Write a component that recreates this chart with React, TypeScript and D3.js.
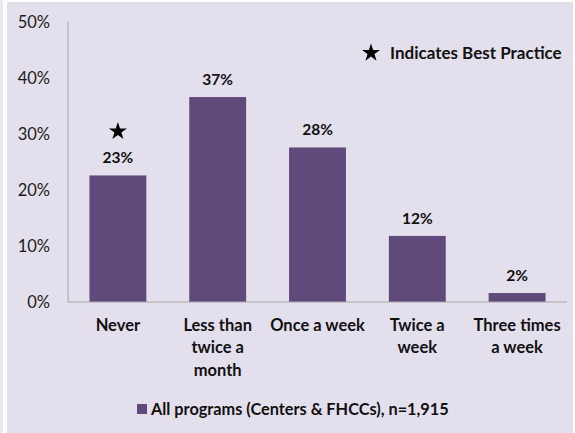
import * as d3 from 'd3';
import React from 'react';

// categories, shown on the x axis (line breaks as in the original)
const categories = ['Never', 'Less than\ntwice a\nmonth', 'Once a week', 'Twice a\nweek', 'Three times\na week'];
// percent of programs
const values = [22.6, 36.6, 27.6, 11.8, 1.6];
const bestPractice = [true, false, false, false, false];
const yTicks = [0, 10, 20, 30, 40, 50];
const legendLabel = 'All programs (Centers & FHCCs), n=1,915';
const noteLabel = 'Indicates Best Practice';

const W = 575;
const H = 433;
const bg = '#e4dfec';
const barColor = '#604a7b';
const font = 'Lato, "Open Sans", sans-serif';

export default function App() {
    const left = 68, right = 567, top = 22, bottom = 302;

    const x = d3.scaleBand<string>()
        .domain(categories)
        .range([left, right])
        .paddingInner(0.43)
        .paddingOuter(0.215);

    const y = d3.scaleLinear()
        .domain([0, 50])
        .range([bottom, top]);

    const star = d3.symbol().type(d3.symbolStar).size(100)();
    const fmt = (v: number) => d3.format('.0f')(v) + '%';

    return (
        <svg width={W} height={H} style={{ position: 'absolute', left: 0, top: 0, fontFamily: font }}>
            <rect x={0} y={0} width={W} height={H} fill="#ffffff" />
            <rect x={0} y={0} width={3} height={H} fill="#ece8f1" />
            <rect x={7} y={2} width={W - 9} height={H - 2} fill={bg} />

            {/* y axis */}
            <line x1={left} x2={left} y1={top} y2={bottom} stroke="#a6a6a6" strokeWidth={1} />
            {yTicks.map(t => (
                <text key={t} x={50} y={y(t)} dy="0.35em" textAnchor="end" fontSize={16.5} fill="#1a1a1a">
                    {t + '%'}
                </text>
            ))}

            {/* bars */}
            {categories.map((c, i) => (
                <g key={c}>
                    <rect x={x(c)} y={y(values[i])} width={x.bandwidth()} height={bottom - y(values[i])} fill={barColor} />
                    <text x={x(c)! + x.bandwidth() / 2} y={y(values[i]) - 12} textAnchor="middle"
                        fontSize={15.5} fontWeight="bold" fill="#111">
                        {fmt(values[i])}
                    </text>
                    {bestPractice[i] && (
                        <path d={star!} transform={`translate(${x(c)! + x.bandwidth() / 2},${y(values[i]) - 44})`} fill="#000" />
                    )}
                </g>
            ))}

            {/* x axis */}
            <line x1={left} x2={right} y1={bottom} y2={bottom} stroke="#a6a6a6" strokeWidth={1} />
            {categories.map(c => (
                <text key={c} x={x(c)! + x.bandwidth() / 2} y={325} textAnchor="middle"
                    fontSize={16.5} fontWeight="bold" fill="#111">
                    {c.split('\n').map((line, j) => (
                        <tspan key={j} x={x(c)! + x.bandwidth() / 2} dy={j === 0 ? '0.35em' : 22.5}>{line}</tspan>
                    ))}
                </text>
            ))}

            {/* note */}
            <path d={star!} transform="translate(371,53)" fill="#000" />
            <text x={390} y={53} dy="0.35em" fontSize={17} fontWeight="bold" fill="#111">{noteLabel}</text>

            {/* legend */}
            <rect x={137} y={404} width={10} height={10} fill={barColor} />
            <text x={151} y={409} dy="0.35em" fontSize={16.3} fontWeight="bold" fill="#111">{legendLabel}</text>
        </svg>
    );
}
